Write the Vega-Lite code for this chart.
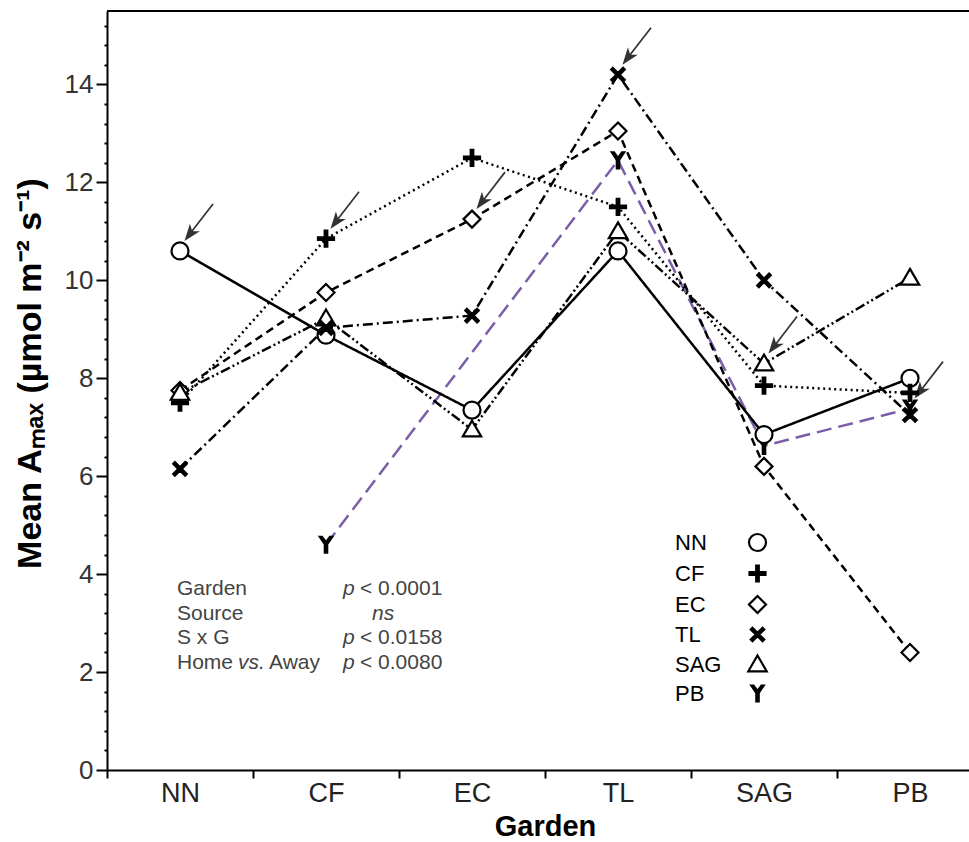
{
 "$schema": "https://vega.github.io/schema/vega-lite/v6.json",
 "width": 862,
 "height": 759,
 "autosize": {"type": "none"},
 "padding": {"left": 107, "top": 11, "right": 0, "bottom": 72},
 "background": "white",
 "config": {"view": {"stroke": null}, "font": "Liberation Sans"},
 "resolve": {"axis": {"y": "independent", "x": "independent"}},
 "datasets": {
  "amax": [
   {"source": "PB", "garden": "CF", "value": 4.6},
   {"source": "PB", "garden": "TL", "value": 12.45},
   {"source": "PB", "garden": "SAG", "value": 6.62},
   {"source": "PB", "garden": "PB", "value": 7.38},
   {"source": "NN", "garden": "NN", "value": 10.6},
   {"source": "NN", "garden": "CF", "value": 8.88},
   {"source": "NN", "garden": "EC", "value": 7.35},
   {"source": "NN", "garden": "TL", "value": 10.6},
   {"source": "NN", "garden": "SAG", "value": 6.85},
   {"source": "NN", "garden": "PB", "value": 8.0},
   {"source": "CF", "garden": "NN", "value": 7.5},
   {"source": "CF", "garden": "CF", "value": 10.85},
   {"source": "CF", "garden": "EC", "value": 12.5},
   {"source": "CF", "garden": "TL", "value": 11.5},
   {"source": "CF", "garden": "SAG", "value": 7.85},
   {"source": "CF", "garden": "PB", "value": 7.7},
   {"source": "EC", "garden": "NN", "value": 7.75},
   {"source": "EC", "garden": "CF", "value": 9.75},
   {"source": "EC", "garden": "EC", "value": 11.25},
   {"source": "EC", "garden": "TL", "value": 13.05},
   {"source": "EC", "garden": "SAG", "value": 6.2},
   {"source": "EC", "garden": "PB", "value": 2.4},
   {"source": "SAG", "garden": "NN", "value": 7.7},
   {"source": "SAG", "garden": "CF", "value": 9.22},
   {"source": "SAG", "garden": "EC", "value": 6.95},
   {"source": "SAG", "garden": "TL", "value": 11.0},
   {"source": "SAG", "garden": "SAG", "value": 8.3},
   {"source": "SAG", "garden": "PB", "value": 10.05},
   {"source": "TL", "garden": "NN", "value": 6.15},
   {"source": "TL", "garden": "CF", "value": 9.03},
   {"source": "TL", "garden": "EC", "value": 9.28},
   {"source": "TL", "garden": "TL", "value": 14.2},
   {"source": "TL", "garden": "SAG", "value": 10.0},
   {"source": "TL", "garden": "PB", "value": 7.25}
  ],
  "notes": [
   {"label": "Garden", "p": "p", "stat": "< 0.0001", "y": 3.69},
   {"label": "Source", "ns": "ns", "y": 3.18},
   {"label": "S x G", "p": "p", "stat": "< 0.0158", "y": 2.69},
   {"label": "Home", "vs": "vs.", "away": "Away", "p": "p", "stat": "< 0.0080", "y": 2.18}
  ],
  "frame": [{"top": 15.5}]
 },
 "layer": [
  {
   "data": {"name": "frame"},
   "mark": {"type": "rule", "stroke": "black", "strokeWidth": 2},
   "encoding": {"y": {"field": "top", "type": "quantitative", "scale": {"domain": [0, 15.5], "nice": false},
    "axis": {"orient": "left", "values": [0.4,0.8,1.2,1.6,2.4,2.8,3.2,3.6,4.4,4.8,5.2,5.6,6.4,6.8,7.2,7.6,8.4,8.8,9.2,9.6,10.4,10.8,11.2,11.6,12.4,12.8,13.2,13.6,14.4,14.8,15.2],
     "labels": false, "domain": false, "title": null, "grid": false, "tickSize": 3, "tickWidth": 2, "tickColor": "black"}}}
  },
  {
   "data": {"name": "amax"},
   "mark": {"type": "line", "strokeCap": "butt"},
   "encoding": {
    "x": {"field": "garden", "type": "nominal",
     "scale": {"type": "band", "domain": ["NN", "CF", "EC", "TL", "SAG", "PB"], "range": [0, 876], "paddingInner": 0, "paddingOuter": 0},
     "axis": {"orient": "bottom", "title": "Garden", "labelAngle": 0, "labelFontSize": 27, "labelColor": "#222", "labelPadding": 2,
      "tickBand": "extent", "tickSize": 8, "tickWidth": 2, "tickColor": "black", "domainColor": "black", "domainWidth": 2,
      "titleFontSize": 29, "titleFontWeight": "bold", "titleColor": "black", "titlePadding": 6, "grid": false}},
    "y": {"field": "value", "type": "quantitative",
     "scale": {"domain": [0, 15.5], "nice": false},
     "axis": {"orient": "left", "title": "Mean Aₘₐₓ (µmol m⁻² s⁻¹)",
      "values": [0, 2, 4, 6, 8, 10, 12, 14],
      "tickSize": 11, "tickWidth": 2, "tickColor": "black", "domainColor": "black", "domainWidth": 2,
      "labelFontSize": 26, "labelColor": "#333", "labelPadding": 3, "labelOverlap": false, "grid": false,
      "titleFontSize": 34, "titleFontWeight": "bold", "titleColor": "black", "titleX": -77, "titleY": 362, "titleBaseline": "middle", "titleAlign": "center", "titleAngle": -90}},
    "color": {"field": "source", "type": "nominal", "scale": {"domain": ["PB", "NN", "CF", "EC", "TL", "SAG"], "range": ["#7b5ea8", "black", "black", "black", "black", "black"]}, "legend": null},
    "strokeDash": {"field": "source", "type": "nominal", "scale": {"domain": ["PB", "SAG", "TL", "EC", "CF", "NN"], "range": [[15, 7], [10, 3, 2, 3, 2, 3], [10, 4, 2, 4], [8, 5], [2, 3.5], [1, 0]]}, "legend": null},
    "strokeWidth": {"field": "source", "type": "nominal", "scale": {"domain": ["EC", "PB", "NN", "CF", "TL", "SAG"], "range": [2.5, 2.5, 2, 2, 2, 2]}, "legend": null}
   }
  },
  {
   "data": {"name": "amax"},
   "transform": [{"filter": "datum.source === datum.garden"}],
   "mark": {"type": "point", "shape": "M0.66,-0.94L0.23,-0.382M0.12,-0.24L0.34,-0.38L0.23,-0.382L0.198,-0.488Z", "size": 10000, "filled": true, "fill": "#333", "stroke": "#333", "strokeWidth": 1.7, "opacity": 1},
   "encoding": {
    "x": {"field": "garden", "type": "nominal", "scale": {"type": "band", "domain": ["NN", "CF", "EC", "TL", "SAG", "PB"], "range": [0, 876], "paddingInner": 0, "paddingOuter": 0}, "axis": null},
    "y": {"field": "value", "type": "quantitative", "scale": {"domain": [0, 15.5], "nice": false}, "axis": null}
   }
  },
  {
   "data": {"name": "amax"},
   "mark": {"type": "point", "size": 400, "filled": true, "strokeWidth": 2.2, "opacity": 1},
   "encoding": {
    "x": {"field": "garden", "type": "nominal", "scale": {"type": "band", "domain": ["NN", "CF", "EC", "TL", "SAG", "PB"], "range": [0, 876], "paddingInner": 0, "paddingOuter": 0}, "axis": null},
    "y": {"field": "value", "type": "quantitative", "scale": {"domain": [0, 15.5], "nice": false}, "axis": null},
    "shape": {"field": "source", "type": "nominal",
     "scale": {"domain": ["NN", "CF", "EC", "TL", "SAG", "PB"], "range": [
      "M-0.85,0A0.85,0.85,0,1,0,0.85,0A0.85,0.85,0,1,0,-0.85,0Z",
      "M-0.8,-0.13H-0.13V-0.8H0.13V-0.13H0.8V0.13H0.13V0.8H-0.13V0.13H-0.8Z",
      "M0,-0.85L0.85,0L0,0.85L-0.85,0Z",
      "M-0.509,-0.675L0,-0.166L0.509,-0.675L0.675,-0.509L0.166,0L0.675,0.509L0.509,0.675L0,0.166L-0.509,0.675L-0.675,0.509L-0.166,0L-0.675,-0.509Z",
      "M0,-0.9L0.92,0.68L-0.92,0.68Z",
      "M-0.62,-0.8L-0.4,-0.8L0,-0.25L0.4,-0.8L0.62,-0.8L0.12,-0.05L0.12,0.8L-0.12,0.8L-0.12,-0.05Z"]},
     "legend": {"orient": "none", "legendX": 567, "legendY": 520, "title": null, "padding": 0,
      "labelFontSize": 22, "labelFont": "Liberation Sans", "labelColor": "black", "labelAlign": "left",
      "symbolSize": 400, "symbolStrokeWidth": 2.2, "symbolStrokeColor": "black",
      "symbolOffset": 72, "labelOffset": -94, "rowPadding": 5}},
    "fill": {"field": "source", "type": "nominal", "scale": {"domain": ["NN", "CF", "EC", "TL", "SAG", "PB"], "range": ["white", "black", "white", "black", "white", "black"]}},
    "stroke": {"field": "source", "type": "nominal", "scale": {"domain": ["NN", "CF", "EC", "TL", "SAG", "PB"], "range": ["black", "black", "black", "black", "black", "black"]}}
   }
  },
  {
   "data": {"name": "notes"},
   "mark": {"type": "text", "align": "left", "baseline": "middle", "dx": -3, "fontSize": 21, "color": "#444"},
   "encoding": {
    "x": {"datum": "NN", "type": "nominal", "scale": {"type": "band", "domain": ["NN", "CF", "EC", "TL", "SAG", "PB"], "range": [0, 876], "paddingInner": 0, "paddingOuter": 0}, "axis": null},
    "y": {"field": "y", "type": "quantitative", "scale": {"domain": [0, 15.5], "nice": false}, "axis": null},
    "text": {"field": "label"}
   }
  },
  {
   "data": {"name": "notes"},
   "transform": [{"filter": "datum.vs"}],
   "mark": {"type": "text", "align": "left", "baseline": "middle", "dx": 58, "fontSize": 21, "fontStyle": "italic", "color": "#444"},
   "encoding": {
    "x": {"datum": "NN", "type": "nominal", "scale": {"type": "band", "domain": ["NN", "CF", "EC", "TL", "SAG", "PB"], "range": [0, 876], "paddingInner": 0, "paddingOuter": 0}, "axis": null},
    "y": {"field": "y", "type": "quantitative", "scale": {"domain": [0, 15.5], "nice": false}, "axis": null},
    "text": {"field": "vs"}
   }
  },
  {
   "data": {"name": "notes"},
   "transform": [{"filter": "datum.away"}],
   "mark": {"type": "text", "align": "left", "baseline": "middle", "dx": 89, "fontSize": 21, "color": "#444"},
   "encoding": {
    "x": {"datum": "NN", "type": "nominal", "scale": {"type": "band", "domain": ["NN", "CF", "EC", "TL", "SAG", "PB"], "range": [0, 876], "paddingInner": 0, "paddingOuter": 0}, "axis": null},
    "y": {"field": "y", "type": "quantitative", "scale": {"domain": [0, 15.5], "nice": false}, "axis": null},
    "text": {"field": "away"}
   }
  },
  {
   "data": {"name": "notes"},
   "transform": [{"filter": "datum.p"}],
   "mark": {"type": "text", "align": "left", "baseline": "middle", "dx": 17, "fontSize": 21, "fontStyle": "italic", "color": "#444"},
   "encoding": {
    "x": {"datum": "CF", "type": "nominal", "scale": {"type": "band", "domain": ["NN", "CF", "EC", "TL", "SAG", "PB"], "range": [0, 876], "paddingInner": 0, "paddingOuter": 0}, "axis": null},
    "y": {"field": "y", "type": "quantitative", "scale": {"domain": [0, 15.5], "nice": false}, "axis": null},
    "text": {"field": "p"}
   }
  },
  {
   "data": {"name": "notes"},
   "transform": [{"filter": "datum.stat"}],
   "mark": {"type": "text", "align": "left", "baseline": "middle", "dx": 34, "fontSize": 21, "color": "#444"},
   "encoding": {
    "x": {"datum": "CF", "type": "nominal", "scale": {"type": "band", "domain": ["NN", "CF", "EC", "TL", "SAG", "PB"], "range": [0, 876], "paddingInner": 0, "paddingOuter": 0}, "axis": null},
    "y": {"field": "y", "type": "quantitative", "scale": {"domain": [0, 15.5], "nice": false}, "axis": null},
    "text": {"field": "stat"}
   }
  },
  {
   "data": {"name": "notes"},
   "transform": [{"filter": "datum.ns"}],
   "mark": {"type": "text", "align": "left", "baseline": "middle", "dx": 46, "fontSize": 21, "fontStyle": "italic", "color": "#444"},
   "encoding": {
    "x": {"datum": "CF", "type": "nominal", "scale": {"type": "band", "domain": ["NN", "CF", "EC", "TL", "SAG", "PB"], "range": [0, 876], "paddingInner": 0, "paddingOuter": 0}, "axis": null},
    "y": {"field": "y", "type": "quantitative", "scale": {"domain": [0, 15.5], "nice": false}, "axis": null},
    "text": {"field": "ns"}
   }
  }
 ]
}
